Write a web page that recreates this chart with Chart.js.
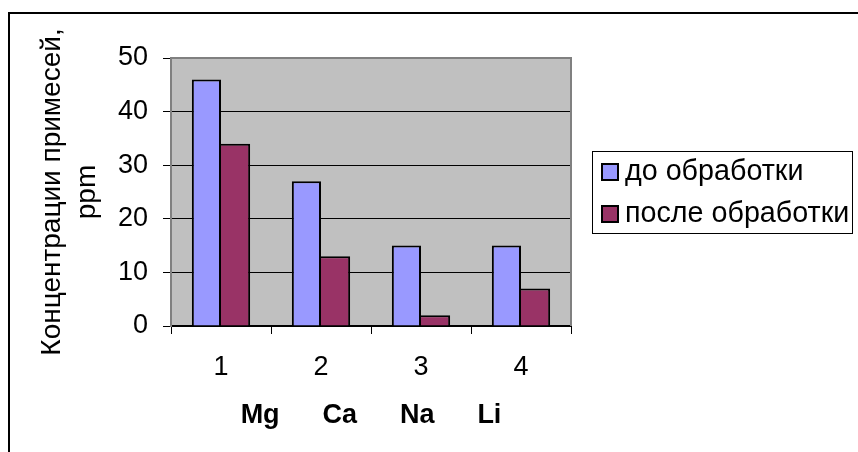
<!DOCTYPE html>
<html>
<head>
<meta charset="utf-8">
<script src="https://cdn.jsdelivr.net/npm/chart.js@4/dist/chart.umd.min.js"></script>
<style>
  html, body { margin: 0; padding: 0; background: #fff; }
  #wrap { width: 858px; height: 452px; position: relative; }
</style>
</head>
<body>
<div id="wrap"><canvas id="c" width="858" height="452"></canvas></div>
<script>
// Sample numbers and impurity levels before / after treatment
const categories = ['1', '2', '3', '4'];
const elementsLine = 'Mg     \u2009Ca     \u2009Na     \u2009Li';
const seriesNames = ['до обработки', 'после обработки'];
const beforeValues = [46, 27, 15, 15];
const afterValues = [34, 13, 2, 7];
const yTicks = [0, 10, 20, 30, 40, 50];
const yTitleLines = ['Концентрации примесей,', 'ppm'];

const FONT = "'Liberation Sans', Arial, sans-serif";
const BLUE = '#9999FF';
const MAROON = '#993366';

// White page with the outer frame and the gray plot background
const backdrop = {
  id: 'backdrop',
  beforeDraw(chart) {
    const { ctx, chartArea: a } = chart;
    ctx.save();
    ctx.fillStyle = '#ffffff';
    ctx.fillRect(0, 0, chart.width, chart.height);
    ctx.strokeStyle = '#000000';
    ctx.lineWidth = 2;
    ctx.strokeRect(9, 13, chart.width + 50, chart.height + 50);
    ctx.fillStyle = '#C0C0C0';
    ctx.fillRect(a.left, a.top, a.right - a.left, a.bottom - a.top);
    ctx.restore();
  },
  afterDatasetsDraw(chart) {
    const { ctx, chartArea: a } = chart;
    ctx.save();
    ctx.strokeStyle = '#808080';
    ctx.lineWidth = 2;
    ctx.beginPath();
    ctx.moveTo(a.left, a.top);
    ctx.lineTo(a.right, a.top);
    ctx.lineTo(a.right, a.bottom);
    ctx.stroke();
    ctx.restore();
  }
};

// Boxed legend to the right of the plot
const boxedLegend = {
  id: 'boxedLegend',
  afterDraw(chart) {
    const { ctx, chartArea: a } = chart;
    const sets = chart.data.datasets;
    const rowH = 42;
    const w = 260;
    const h = rowH * sets.length - 2;
    const left = a.right + 21;
    const top = Math.round((a.top + a.bottom) / 2 - h / 2);
    ctx.save();
    ctx.fillStyle = '#ffffff';
    ctx.fillRect(left, top, w, h);
    ctx.strokeStyle = '#000000';
    ctx.lineWidth = 1;
    ctx.strokeRect(left + 0.5, top + 0.5, w, h);
    ctx.font = '28.7px ' + FONT;
    ctx.textBaseline = 'middle';
    ctx.textAlign = 'left';
    sets.forEach((ds, i) => {
      const cy = top + 21 + i * rowH;
      ctx.fillStyle = ds.backgroundColor;
      ctx.fillRect(left + 10, cy - 8, 16, 16);
      ctx.lineWidth = 2;
      ctx.strokeStyle = '#000000';
      ctx.strokeRect(left + 10, cy - 8, 16, 16);
      ctx.fillStyle = '#000000';
      ctx.fillText(ds.label, left + 33, cy);
    });
    ctx.restore();
  }
};

new Chart(document.getElementById('c'), {
  type: 'bar',
  data: {
    labels: categories,
    datasets: [
      {
        label: seriesNames[0],
        data: beforeValues,
        backgroundColor: BLUE,
        borderColor: '#000000',
        borderWidth: { top: 2, left: 2, right: 2, bottom: 0 },
        borderSkipped: false,
        categoryPercentage: 0.583,
        barPercentage: 1.0
      },
      {
        label: seriesNames[1],
        data: afterValues,
        backgroundColor: MAROON,
        borderColor: '#000000',
        borderWidth: { top: 2, left: 0, right: 2, bottom: 0 },
        borderSkipped: false,
        categoryPercentage: 0.583,
        barPercentage: 1.0
      }
    ]
  },
  options: {
    responsive: false,
    animation: false,
    devicePixelRatio: 1,
    layout: { padding: { left: 0, top: 58, right: 287, bottom: 0 } },
    plugins: {
      legend: { display: false },
      tooltip: { enabled: false },
      title: { display: false }
    },
    scales: {
      x: {
        offset: true,
        grid: {
          offset: true,
          drawOnChartArea: false,
          drawTicks: true,
          tickLength: 8,
          color: '#000000',
          lineWidth: 1
        },
        border: { display: true, color: '#000000', width: 2 },
        ticks: {
          color: '#000000',
          padding: 17,
          font: { family: FONT, size: 27 },
          maxRotation: 0
        },
        title: {
          display: true,
          text: elementsLine,
          color: '#000000',
          font: { family: FONT, size: 27, weight: 'bold' },
          padding: { top: 0, bottom: 20 }
        },
        afterFit(scale) { scale.height = 126; }
      },
      y: {
        min: 0,
        max: 50,
        afterBuildTicks(scale) { scale.ticks = yTicks.map(v => ({ value: v })); },
        grid: {
          color: '#000000',
          lineWidth: 1,
          drawTicks: true,
          tickLength: 8
        },
        border: { display: true, color: '#808080', width: 2 },
        ticks: {
          color: '#000000',
          padding: 15,
          font: { family: FONT, size: 27 }
        },
        title: {
          display: true,
          text: yTitleLines,
          color: '#000000',
          font: { family: FONT, size: 28, lineHeight: 1.25 },
          padding: { top: 35, bottom: 0 }
        },
        afterFit(scale) { scale.width = 171; }
      }
    }
  },
  plugins: [backdrop, boxedLegend]
});
</script>
</body>
</html>
